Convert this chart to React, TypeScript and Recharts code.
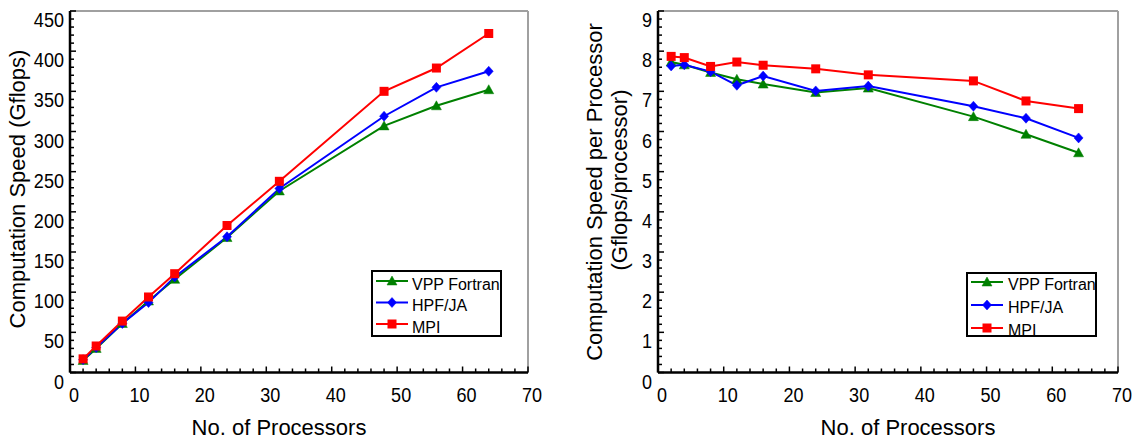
import React from 'react';
import { LineChart, Line, XAxis, YAxis, ReferenceLine, Legend } from 'recharts';

// ---------- data ----------
const processors = [2, 4, 8, 12, 16, 24, 32, 48, 56, 64];

const seriesNames = ['VPP Fortran', 'HPF/JA', 'MPI'];
const seriesKeys = ['vpp', 'hpf', 'mpi'];
const seriesColors = ['#008000', '#0000ff', '#ff0000'];
const seriesShapes = ['triangle', 'diamond', 'square'];

// Computation speed (Gflops)
const vppSpeed = [15, 30, 61, 89, 116, 168, 226, 307, 332, 352];
const hpfSpeed = [16, 31, 61, 87, 119, 169, 229, 319, 355, 375];
const mpiSpeed = [17, 33, 64, 94, 123, 183, 238, 350, 379, 422];

// Computation speed per processor (Gflops/processor)
const vppPerProc = [7.73, 7.66, 7.47, 7.3, 7.18, 6.97, 7.08, 6.37, 5.93, 5.47];
const hpfPerProc = [7.63, 7.66, 7.49, 7.15, 7.38, 7.01, 7.13, 6.63, 6.33, 5.84];
const mpiPerProc = [7.87, 7.84, 7.62, 7.73, 7.65, 7.56, 7.41, 7.26, 6.76, 6.57];

// tick labels
const xMajorTicks = [0, 10, 20, 30, 40, 50, 60, 70];
const speedMajorTicks = [0, 50, 100, 150, 200, 250, 300, 350, 400, 450];
const perProcMajorTicks = [0, 1, 2, 3, 4, 5, 6, 7, 8, 9];
const minorDivisions = 5;

const xTitle = 'No. of Processors';
const speedTitle = 'Computation Speed (Gflops)';
const perProcTitle = ['Computation Speed per Processor', '(Gflops/processor)'];

// ---------- helpers ----------
const FONT = '"Liberation Sans", Arial, Helvetica, sans-serif';

const withMinor = (majors: number[], div: number) => {
  const out: number[] = [];
  for (let i = 0; i < majors.length - 1; i++) {
    const step = (majors[i + 1] - majors[i]) / div;
    for (let k = 0; k < div; k++) out.push(Math.round((majors[i] + k * step) * 1000) / 1000);
  }
  out.push(majors[majors.length - 1]);
  return out;
};

const isMajor = (majors: number[], v: number) => majors.some((m) => Math.abs(m - v) < 1e-6);

const buildRows = (a: number[], b: number[], c: number[]) =>
  processors.map((p, i) => ({ p, vpp: a[i], hpf: b[i], mpi: c[i] }));

const speedRows = buildRows(vppSpeed, hpfSpeed, mpiSpeed);
const perProcRows = buildRows(vppPerProc, hpfPerProc, mpiPerProc);

const Marker = ({ shape, cx, cy, color }: any) => {
  if (shape === 'triangle') {
    return <path d={`M${cx},${cy - 5}L${cx + 5},${cy + 4}L${cx - 5},${cy + 4}Z`} fill={color} stroke={color} strokeWidth={0.5} />;
  }
  if (shape === 'diamond') {
    return <path d={`M${cx},${cy - 5}L${cx + 4.5},${cy}L${cx},${cy + 5}L${cx - 4.5},${cy}Z`} fill={color} stroke={color} strokeWidth={0.5} />;
  }
  return <rect x={cx - 4.5} y={cy - 4.5} width={9} height={9} fill={color} />;
};

const makeDot = (shape: string, color: string) => (props: any) => {
  const { cx, cy, index } = props;
  if (cx == null || cy == null) return <g key={`e-${index}`} />;
  return (
    <g key={`d-${shape}-${index}`}>
      <Marker shape={shape} cx={cx} cy={cy} color={color} />
    </g>
  );
};

const makeXTick = (majors: number[]) => (props: any) => {
  const { x, y, payload } = props;
  const v = payload.value;
  const major = isMajor(majors, v);
  return (
    <g>
      <line x1={x} y1={y} x2={x} y2={y - (major ? 6 : 4)} stroke="#000" strokeWidth={1.5} />
      {major && (
        <text
          x={0}
          y={0}
          transform={`translate(${x + 4},${y + 29}) scale(0.86,1)`}
          textAnchor="middle"
          fontSize={21}
          fontFamily={FONT}
          fill="#000"
        >
          {v}
        </text>
      )}
    </g>
  );
};

const makeYTick = (majors: number[]) => (props: any) => {
  const { x, y, payload } = props;
  const v = payload.value;
  const major = isMajor(majors, v);
  return (
    <g>
      <line x1={x} y1={y} x2={x + (major ? 6 : 4)} y2={y} stroke="#000" strokeWidth={1.5} />
      {major && (
        <text
          x={0}
          y={0}
          transform={`translate(${x - 6},${y + 16}) scale(0.86,1)`}
          textAnchor="end"
          fontSize={21}
          fontFamily={FONT}
          fill="#000"
        >
          {v}
        </text>
      )}
    </g>
  );
};

const makeLegend = (cfg: { lineX1: number; lineX2: number; lineY0: number; textX: number; textY0: number; rowGap: number; width: number; height: number }) => () => (
  <div
    style={{
      width: cfg.width,
      height: cfg.height,
      border: '2px solid #000',
      boxSizing: 'border-box',
      background: '#fff',
      overflow: 'hidden',
    }}
  >
    <svg width={cfg.width} height={cfg.height} style={{ display: 'block', marginLeft: -2, marginTop: -2 }}>
      {seriesNames.map((name, i) => {
        const ly = cfg.lineY0 + i * cfg.rowGap;
        const ty = cfg.textY0 + i * cfg.rowGap;
        return (
          <g key={name}>
            <line x1={cfg.lineX1} y1={ly} x2={cfg.lineX2} y2={ly} stroke={seriesColors[i]} strokeWidth={2} />
            <Marker shape={seriesShapes[i]} cx={(cfg.lineX1 + cfg.lineX2) / 2} cy={ly} color={seriesColors[i]} />
            <text x={cfg.textX} y={ty} fontSize={16} fontFamily={FONT} fill="#000">
              {name}
            </text>
          </g>
        );
      })}
    </svg>
  </div>
);

const renderLines = () =>
  seriesKeys.map((k, i) => (
    <Line
      key={k}
      type="linear"
      dataKey={k}
      name={seriesNames[i]}
      stroke={seriesColors[i]}
      strokeWidth={2}
      dot={makeDot(seriesShapes[i], seriesColors[i])}
      activeDot={false}
      isAnimationActive={false}
    />
  ));

const BORDER = '#a0a0a0';

export default function App() {
  const xTicks = withMinor(xMajorTicks, minorDivisions);
  const speedTicks = withMinor(speedMajorTicks, minorDivisions);
  const perProcTicks = withMinor(perProcMajorTicks, minorDivisions);
  const xMax = xMajorTicks[xMajorTicks.length - 1];
  const speedMax = speedMajorTicks[speedMajorTicks.length - 1];
  const perProcMax = perProcMajorTicks[perProcMajorTicks.length - 1];

  return (
    <div style={{ position: 'absolute', left: 0, top: 0, width: 1135, height: 441, background: '#fff', fontFamily: FONT }}>
      {/* Left chart */}
      <div style={{ position: 'absolute', left: 0, top: 0 }}>
        <LineChart width={555} height={441} data={speedRows} margin={{ top: 11, right: 27, bottom: 0, left: 0 }}>
          <XAxis
            type="number"
            dataKey="p"
            domain={[0, xMax]}
            ticks={xTicks}
            interval={0}
            tickSize={0}
            tickMargin={0}
            tick={makeXTick(xMajorTicks)}
            axisLine={{ stroke: '#000', strokeWidth: 2.5 }}
            height={68.5}
            label={{
              content: (p: any) => {
                const vb = p.viewBox;
                return (
                  <text x={vb.x + vb.width / 2 - 20} y={vb.y + 62.5} textAnchor="middle" fontSize={22} fontFamily={FONT} fill="#000">
                    {xTitle}
                  </text>
                );
              },
            }}
          />
          <YAxis
            type="number"
            domain={[0, speedMax]}
            ticks={speedTicks}
            interval={0}
            tickSize={0}
            tickMargin={0}
            tick={makeYTick(speedMajorTicks)}
            axisLine={{ stroke: '#000', strokeWidth: 2.5 }}
            width={70}
            label={{
              content: () => (
                <text x={0} y={0} transform={`translate(25,189) rotate(-90)`} textAnchor="middle" fontSize={22} fontFamily={FONT} fill="#000">
                  {speedTitle}
                </text>
              ),
            }}
          />
          <ReferenceLine y={speedMax} stroke={BORDER} strokeWidth={2} />
          <ReferenceLine x={xMax} stroke={BORDER} strokeWidth={2} />
          {renderLines()}
          <Legend
            layout="horizontal"
            verticalAlign="middle"
            align="center"
            content={makeLegend({ lineX1: 5, lineX2: 37, lineY0: 11, textX: 41, textY0: 19.5, rowGap: 21.5, width: 131, height: 67 })}
            wrapperStyle={{ left: 371, top: 270, width: 131, height: 67 }}
          />
        </LineChart>
      </div>

      {/* Right chart */}
      <div style={{ position: 'absolute', left: 560, top: 0 }}>
        <LineChart width={575} height={441} data={perProcRows} margin={{ top: 11, right: 17, bottom: 0, left: 0 }}>
          <XAxis
            type="number"
            dataKey="p"
            domain={[0, xMax]}
            ticks={xTicks}
            interval={0}
            tickSize={0}
            tickMargin={0}
            tick={makeXTick(xMajorTicks)}
            axisLine={{ stroke: '#000', strokeWidth: 2.5 }}
            height={68.5}
            label={{
              content: (p: any) => {
                const vb = p.viewBox;
                return (
                  <text x={vb.x + vb.width / 2 + 20} y={vb.y + 62.5} textAnchor="middle" fontSize={22} fontFamily={FONT} fill="#000">
                    {xTitle}
                  </text>
                );
              },
            }}
          />
          <YAxis
            type="number"
            domain={[0, perProcMax]}
            ticks={perProcTicks}
            interval={0}
            tickSize={0}
            tickMargin={0}
            tick={makeYTick(perProcMajorTicks)}
            axisLine={{ stroke: '#000', strokeWidth: 2.5 }}
            width={98}
            label={{
              content: () => (
                <g>
                  <text x={0} y={0} transform={`translate(42,192) rotate(-90)`} textAnchor="middle" fontSize={22} fontFamily={FONT} fill="#000">
                    {perProcTitle[0]}
                  </text>
                  <text x={0} y={0} transform={`translate(67,180) rotate(-90)`} textAnchor="middle" fontSize={22} fontFamily={FONT} fill="#000">
                    {perProcTitle[1]}
                  </text>
                </g>
              ),
            }}
          />
          <ReferenceLine y={perProcMax} stroke={BORDER} strokeWidth={2} />
          <ReferenceLine x={xMax} stroke={BORDER} strokeWidth={2} />
          {renderLines()}
          <Legend
            layout="horizontal"
            verticalAlign="middle"
            align="center"
            content={makeLegend({ lineX1: 5, lineX2: 37, lineY0: 10, textX: 42, textY0: 17.5, rowGap: 23, width: 131, height: 65 })}
            wrapperStyle={{ left: 406, top: 272, width: 131, height: 65 }}
          />
        </LineChart>
      </div>
    </div>
  );
}
